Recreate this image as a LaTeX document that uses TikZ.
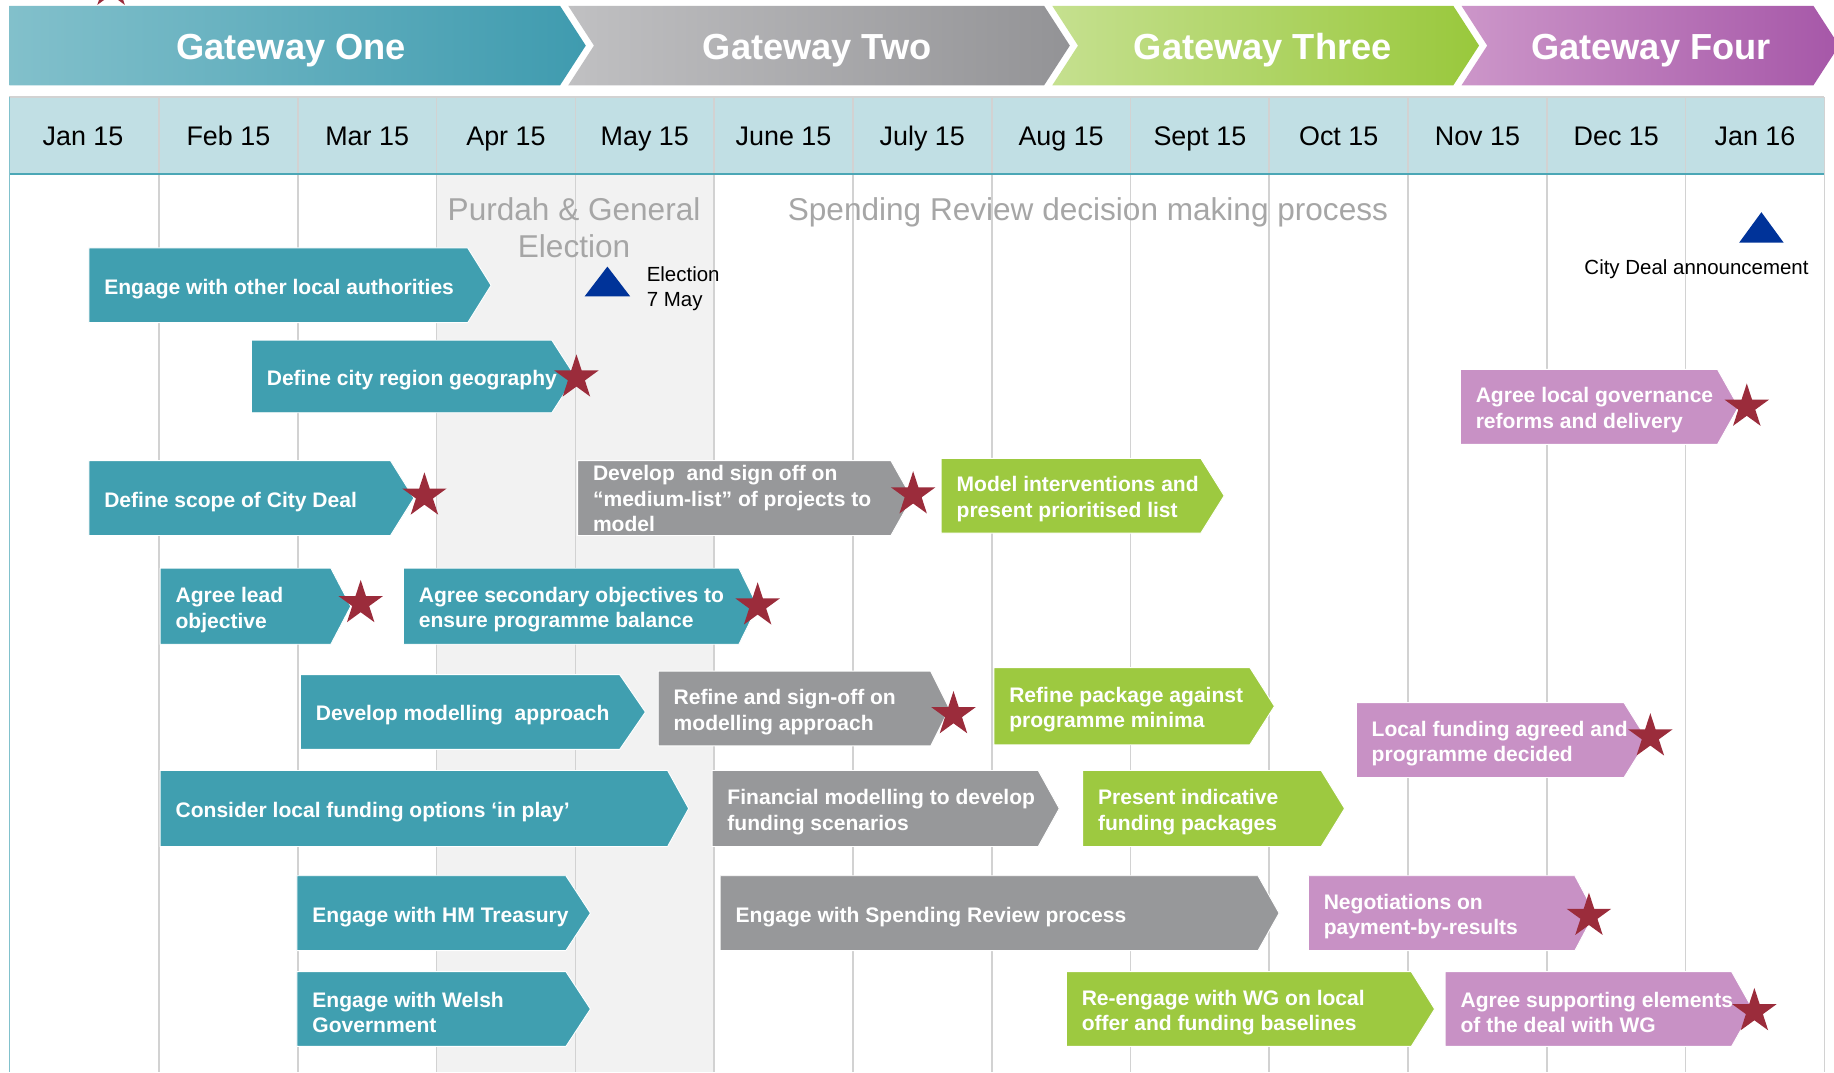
\documentclass[tikz,border=0pt]{standalone}
\usepackage{fontspec}
\setmainfont{Liberation Sans}
\usetikzlibrary{shapes.geometric}
\definecolor{tealbar}{HTML}{409FB0}
\definecolor{graybar}{HTML}{97989A}
\definecolor{greenbar}{HTML}{9DC940}
\definecolor{purplebar}{HTML}{C891C5}
\definecolor{starred}{HTML}{9B2C3B}
\definecolor{dblue}{HTML}{003399}
\definecolor{hdrfill}{HTML}{C1DFE4}
\definecolor{hdrline}{HTML}{4BA7B6}
\definecolor{gridgray}{HTML}{D2D2D2}
\definecolor{shadegray}{HTML}{F2F2F2}
\definecolor{notegray}{HTML}{A6A6A6}
\definecolor{gwAl}{HTML}{82C0CB}
\definecolor{gwAr}{HTML}{3F9BAF}
\definecolor{gwBl}{HTML}{C0C0C2}
\definecolor{gwBr}{HTML}{939396}
\definecolor{gwCl}{HTML}{C5E08F}
\definecolor{gwCr}{HTML}{99C83C}
\definecolor{gwDl}{HTML}{CC96C9}
\definecolor{gwDr}{HTML}{A657A8}
\tikzset{
  bartext/.style={anchor=west, align=left, text=white, inner sep=0pt,
    font=\bfseries\fontsize{18}{22}\selectfont},
  mstar/.style={star, star points=5, star point ratio=2.618, fill=starred,
    minimum size=40pt, inner sep=0pt},
  gwtext/.style={anchor=base, text=white, font=\bfseries\fontsize{31}{36}\selectfont, inner sep=0pt},
  monthtext/.style={anchor=base, text=black, font=\fontsize{23}{27}\selectfont, inner sep=0pt},
  notetext/.style={text=notegray, font=\fontsize{27}{32}\selectfont, inner sep=0pt, align=center},
  smalltext/.style={text=black, font=\fontsize{17.5}{22}\selectfont, inner sep=0pt, align=left},
  gridl/.style={draw=gridgray, line width=1.4pt},
}
\newcommand{\gbarshift}{3}
\newcommand{\gbar}[8]{%
  \filldraw[fill=#7, draw=white, line width=0.8pt] (#2,#5) -- (#3,#5) -- (#4,{(#5+#6)/2}) -- (#3,#6) -- (#2,#6) -- cycle;
  \node[bartext] (#1) at ({#2+13},{(#5+#6)/2+\gbarshift}) {#8};
}
\begin{document}
\begin{tikzpicture}[x=1pt,y=-1pt]
\useasboundingbox (0,0) rectangle (1568.6,917);
\fill[white] (0,0) rectangle (1568.6,917);
% shaded purdah columns
\fill[shadegray] (374,149) rectangle (611,917);
% header row
\fill[hdrfill] (8,83) rectangle (1560,149);
\draw[draw=gridgray, line width=1pt] (8,83) -- (1560,83);
% grid lines
\foreach \k in {1,...,13} {
  \draw[gridl] ({136+118.7*(\k-1)},83) -- ({136+118.7*(\k-1)},917);
}
\draw[draw=hdrline, line width=1.6pt] (8,149) -- (1560,149);
\draw[draw=hdrline!70, line width=1.2pt] (8,83) -- (8,917);
% months
\node[monthtext] (m0) at (71,124.5) {Jan 15};
\foreach \m [count=\i] in {Feb 15, Mar 15, Apr 15, May 15, June 15, July 15, Aug 15, Sept 15, Oct 15, Nov 15, Dec 15, Jan 16} {
  \node[monthtext] (m\i) at ({136+118.7*(\i-0.5)},124.5) {\m};
}
% gateways
\shade[left color=gwAl, right color=gwAr] (8,5) -- (479,5) -- (501,39) -- (479,73) -- (8,73) -- cycle;
\shade[left color=gwBl, right color=gwBr] (486,5) -- (893,5) -- (915,39) -- (893,73) -- (486,73) -- (508,39) -- cycle;
\shade[left color=gwCl, right color=gwCr] (900,5) -- (1243,5) -- (1265,39) -- (1243,73) -- (900,73) -- (922,39) -- cycle;
\shade[left color=gwDl, right color=gwDr] (1250,5) -- (1551,5) -- (1573,39) -- (1551,73) -- (1250,73) -- (1272,39) -- cycle;
\node[gwtext] (g1) at (249,50.5) {Gateway One};
\node[gwtext] (g2) at (699,50.5) {Gateway Two};
\node[gwtext] (g3) at (1080,50.5) {Gateway Three};
\node[gwtext] (g4) at (1412,50.5) {Gateway Four};
% notes
\node[notetext] (purdah) at (491,195) {Purdah \& General\\Election};
\node[notetext] (spend) at (930.5,182) {Spending Review decision making process};
\fill[dblue] (500,253.5) -- (519.5,228) -- (539,253.5) -- cycle;
\node[smalltext, anchor=west] (elec) at (553,247) {Election\\7 May};
\fill[dblue] (1487.5,207.5) -- (1506.5,181.5) -- (1525.5,207.5) -- cycle;
\node[smalltext] (cda) at (1451,230) {City Deal announcement};
% bars
\gbar{eng}{76}{400}{420}{212}{276}{tealbar}{Engage with other local authorities}
\gbar{geo}{215}{472}{492}{291}{353}{tealbar}{Define city region geography}
\gbar{scope}{76}{334}{354}{394}{458}{tealbar}{Define scope of City Deal}
\renewcommand{\gbarshift}{0.5}
\gbar{medium}{494}{762}{780}{394}{458}{graybar}{Develop~ and sign off on\\“medium-list” of projects to\\model}
\renewcommand{\gbarshift}{3}
\gbar{model}{805}{1027}{1047}{392}{456}{greenbar}{Model interventions and\\present prioritised list}
\gbar{gov}{1249}{1469}{1487}{316}{380}{purplebar}{Agree local governance\\reforms and delivery}
\gbar{lead}{137}{283}{300}{486}{551}{tealbar}{Agree lead\\objective}
\gbar{second}{345}{632}{648}{486}{551}{tealbar}{Agree secondary objectives to\\ensure programme balance}
\gbar{devmod}{257}{530}{552}{577}{641}{tealbar}{Develop modelling~ approach}
\gbar{refine}{563}{796}{812}{574}{638}{graybar}{Refine and sign-off on\\modelling approach}
\gbar{package}{850}{1069}{1090}{571}{637}{greenbar}{Refine package against\\programme minima}
\gbar{localf}{1160}{1389}{1409}{601}{665}{purplebar}{Local funding agreed and\\programme decided}
\gbar{consider}{137}{571}{589}{659}{724}{tealbar}{Consider local funding options ‘in play’}
\gbar{financial}{609}{888}{906}{659}{724}{graybar}{Financial modelling to develop\\funding scenarios}
\gbar{present}{926}{1130}{1150}{659}{724}{greenbar}{Present indicative\\funding packages}
\gbar{hmt}{254}{484}{505}{749}{813}{tealbar}{Engage with HM Treasury}
\gbar{spendrev}{616}{1076}{1094}{749}{813}{graybar}{Engage with Spending Review process}
\gbar{negot}{1119}{1347}{1364}{749}{813}{purplebar}{Negotiations on\\payment-by-results}
\gbar{welsh}{254}{484}{505}{831}{895}{tealbar}{Engage with Welsh\\Government}
\gbar{reeng}{912}{1207}{1227}{831}{895}{greenbar}{Re-engage with WG on local\\offer and funding baselines}
\gbar{support}{1236}{1481}{1499}{831}{895}{purplebar}{Agree supporting elements\\of the deal with WG}
% milestone stars
\node[mstar] (stop) at (95,-12) {};
\node[mstar] (sgeo) at (493,323) {};
\node[mstar] (sscope) at (363,424) {};
\node[mstar] (smedium) at (781,423) {};
\node[mstar] (sgov) at (1494,348) {};
\node[mstar] (slead) at (308.5,516) {};
\node[mstar] (ssecond) at (648,518) {};
\node[mstar] (srefine) at (815.5,611) {};
\node[mstar] (slocalf) at (1411.5,630) {};
\node[mstar] (snegot) at (1359,783.5) {};
\node[mstar] (ssupport) at (1500.5,865) {};
\end{tikzpicture}
\end{document}
